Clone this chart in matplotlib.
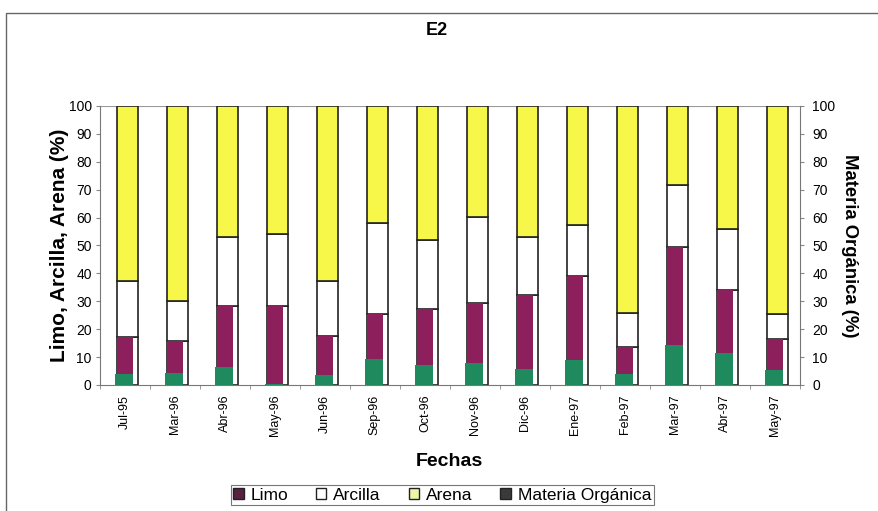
import numpy as np
import matplotlib.pyplot as plt
from matplotlib.patches import Rectangle, Patch

plt.rcParams['font.family'] = ['Liberation Sans', 'DejaVu Sans']

fechas = ['Jul-95', 'Mar-96', 'Abr-96', 'May-96', 'Jun-96', 'Sep-96', 'Oct-96',
          'Nov-96', 'Dic-96', 'Ene-97', 'Feb-97', 'Mar-97', 'Abr-97', 'May-97']
limo = [17.1, 15.9, 28.3, 28.3, 17.7, 25.4, 27.2, 29.5, 32.3, 39.0, 13.5, 49.6, 34.0, 16.6]
arcilla_top = [37.4, 30.2, 53.2, 54.0, 37.4, 58.2, 52.0, 60.1, 53.2, 57.2, 25.7, 71.7, 55.8, 25.4]
materia_org = [3.9, 4.2, 6.3, 0.5, 3.6, 9.2, 7.2, 8.0, 5.6, 8.8, 4.0, 14.3, 11.4, 5.4]

limo = np.array(limo)
arcilla = np.array(arcilla_top) - limo
arena = 100 - np.array(arcilla_top)

x = np.arange(len(fechas))
purple = '#8c1f5c'
green = '#1f8a5e'
yellow = '#f7f74a'

fig = plt.figure(figsize=(8.79, 5.11), dpi=100)
ax = fig.add_axes([0.1138, 0.2466, 0.796, 0.546])

w = 0.42
xc = x + 0.05
# outline of the three stacked fractions
ax.bar(xc, limo, w, color='white', edgecolor='#222222', lw=1.2, zorder=2)
ax.bar(xc, arcilla, w, bottom=limo, color='white', edgecolor='#222222', lw=1.2, zorder=2)
ax.bar(xc, arena, w, bottom=limo + arcilla, color=yellow, edgecolor='#222222', lw=1.2, zorder=2)
# limo fill, narrower and left aligned inside its segment
ax.bar(xc - w / 2, limo, 0.32, align='edge', color=purple, lw=0, zorder=3)

ax.set_xlim(-0.5, len(fechas) - 0.5)
ax.set_ylim(0, 100)
ax.set_yticks(range(0, 101, 10))
ax.set_xticks(x)
ax.set_xticklabels(fechas, rotation=90, fontsize=9)
ax.set_xticks(np.arange(-0.5, len(fechas), 1), minor=True)
ax.tick_params(axis='x', which='major', length=0, pad=7)
ax.tick_params(axis='x', which='minor', length=3, color='#888888')
ax.tick_params(axis='y', labelsize=10, length=3, color='#888888', pad=3)
ax.set_ylabel('Limo, Arcilla, Arena (%)', fontsize=15, fontweight='bold', labelpad=0)
ax.set_xlabel('Fechas', fontsize=14, fontweight='bold', labelpad=12)
for s in ['top', 'right']:
    ax.spines[s].set_visible(False)
ax.spines['left'].set_color('#777777')
ax.spines['bottom'].set_color('#777777')
ax.axhline(100, color='#999999', lw=0.8, zorder=1)

# materia organica on the secondary axis
ax2 = ax.twinx()
ax2.bar(x - 0.02, materia_org, 0.36, color=green, lw=0, zorder=4)
ax2.set_ylim(0, 100)
ax2.set_yticks(range(0, 101, 10))
ax2.tick_params(axis='y', labelsize=10, length=3, color='#888888', pad=6)
ax2.set_ylabel('Materia Orgánica (%)', fontsize=13.3, fontweight='bold',
               rotation=-90, labelpad=16)
for s in ['top', 'left', 'bottom']:
    ax2.spines[s].set_visible(False)
ax2.spines['right'].set_color('#777777')

fig.text(0.497, 0.94, 'E2', ha='center', va='center', fontsize=13, fontweight='bold')

handles = [Patch(facecolor='#5a2040', edgecolor='#222222'),
           Patch(facecolor='white', edgecolor='#222222'),
           Patch(facecolor='#eef5a8', edgecolor='#222222'),
           Patch(facecolor='#3a3a3a', edgecolor='#222222')]
leg = fig.legend(handles, ['Limo', 'Arcilla', 'Arena', 'Materia Orgánica'],
                 loc='center', bbox_to_anchor=(0.503, 0.031), ncol=4, fontsize=12.5,
                 frameon=True, fancybox=False, edgecolor='#555555',
                 handlelength=0.6, handleheight=0.6, handletextpad=0.4,
                 columnspacing=1.6, borderpad=0.15, borderaxespad=0)
leg.get_frame().set_linewidth(0.8)

fig.patches.append(Rectangle((0.007, -0.01), 1.0, 0.985, transform=fig.transFigure,
                             fill=False, edgecolor='#666666', lw=1.0))

fig.savefig('out.png', dpi=100)
